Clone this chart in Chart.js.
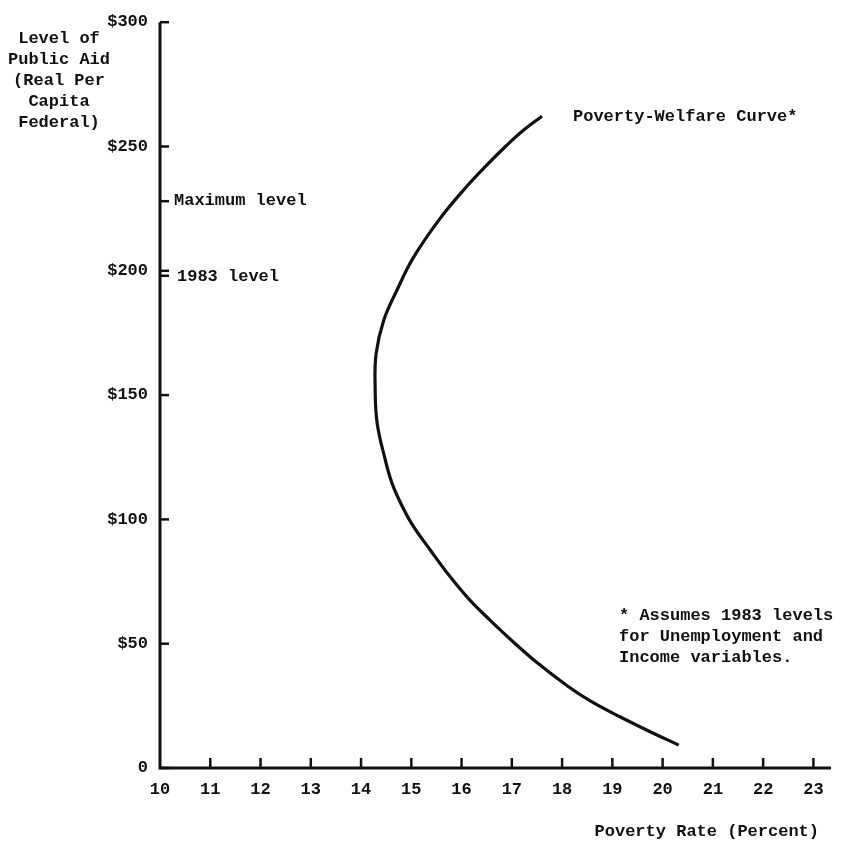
<!DOCTYPE html>
<html>
<head>
<meta charset="utf-8">
<script src="https://cdn.jsdelivr.net/npm/chart.js@4"></script>
<style>
html,body{margin:0;padding:0;background:#fff;}
#wrap{width:848px;height:848px;}
</style>
</head>
<body>
<div id="wrap"><canvas id="c" width="848" height="848"></canvas></div>
<script>
// Poverty-Welfare curve: poverty rate (percent) vs level of public aid ($ real per capita federal)
const povertyRate = [20.32, 19.69, 19.16, 18.56, 18.10, 17.50, 17.03, 16.57, 16.17, 15.77, 15.38, 15.01, 14.78, 14.61, 14.48, 14.32, 14.28, 14.30, 14.45, 14.71, 15.04, 15.57, 16.11, 16.50, 16.90, 17.23, 17.60];
const publicAid   = [9.2,   15.2,  20.5,  27.0,  33.1,  42.4,  50.7,  59.4,  67.4,  77.0,  87.6,  98.2,  106.9, 114.9, 124.1, 138.8, 153.4, 166.7, 180.0, 192.0, 205.3, 221.0, 234.1, 242.5, 250.5, 256.5, 262.2];
const xTicks = [10,11,12,13,14,15,16,17,18,19,20,21,22,23];
const yTicks = [0,50,100,150,200,250,300];
const yTickLabels = ['0','$50','$100','$150','$200','$250','$300'];
const refLevels = [228, 198];
const refLabels = ['Maximum level', '1983 level'];
const yTitleLines = ['Level of','Public Aid','(Real Per','Capita','Federal)'];
const xTitle = 'Poverty Rate (Percent)';
const curveLabel = 'Poverty-Welfare Curve*';
const noteLines = ['* Assumes 1983 levels','for Unemployment and','Income variables.'];

const FONT = '"Liberation Mono", "DejaVu Sans Mono", monospace';
const points = povertyRate.map((x,i)=>({x:x, y:publicAid[i]}));

const decor = {
  id:'decor',
  afterDraw(chart){
    const ctx = chart.ctx, xs = chart.scales.x, ys = chart.scales.y;
    const x0 = xs.getPixelForValue(10), y0 = ys.getPixelForValue(0);
    ctx.save();
    ctx.strokeStyle = '#111'; ctx.lineWidth = 3; ctx.lineCap='butt';
    ctx.beginPath();
    ctx.moveTo(x0, ys.getPixelForValue(300)); ctx.lineTo(x0, y0);
    ctx.lineTo(xs.right, y0);
    ctx.stroke();
    ctx.lineWidth = 2.5;
    yTicks.concat(refLevels).forEach(v=>{
      const py = ys.getPixelForValue(v);
      ctx.beginPath(); ctx.moveTo(x0, py); ctx.lineTo(x0+9, py); ctx.stroke();
    });
    xTicks.forEach(v=>{
      if (v===10) return;
      const px = xs.getPixelForValue(v);
      ctx.beginPath(); ctx.moveTo(px, y0); ctx.lineTo(px, y0-10); ctx.stroke();
    });
    ctx.fillStyle = '#111';
    ctx.font = 'bold 17px ' + FONT;
    ctx.textBaseline = 'middle';
    ctx.textAlign = 'left';
    ctx.fillText(refLabels[0], x0+14, ys.getPixelForValue(refLevels[0]));
    ctx.fillText(refLabels[1], x0+17, ys.getPixelForValue(refLevels[1])+1);
    ctx.textAlign = 'center';
    yTitleLines.forEach((t,i)=>ctx.fillText(t, 59, 39 + i*21));
    ctx.textAlign = 'right';
    ctx.fillText(xTitle, 819, 832);
    ctx.textAlign = 'left';
    ctx.fillText(curveLabel, 573, 117);
    noteLines.forEach((t,i)=>ctx.fillText(t, 619, 616 + i*21));
    ctx.restore();
  }
};

new Chart(document.getElementById('c'), {
  type:'scatter',
  data:{datasets:[{
    data: points,
    showLine:true,
    borderColor:'#111',
    borderWidth:3.2,
    pointRadius:0,
    tension:0.4,
    fill:false
  }]},
  options:{
    responsive:false,
    animation:false,
    devicePixelRatio:1,
    layout:{padding:{top:16,right:17,left:0,bottom:0}},
    plugins:{legend:{display:false},tooltip:{enabled:false}},
    scales:{
      x:{
        type:'linear', min:10, max:23.35,
        afterFit(s){ s.height = 80; },
        afterBuildTicks(s){ s.ticks = xTicks.map(v=>({value:v})); },
        grid:{display:false, drawTicks:false},
        border:{display:false},
        ticks:{color:'#111', padding:12, maxRotation:0, autoSkip:false,
               font:{family:FONT, size:17, weight:'bold'},
               callback:(v)=>String(v)}
      },
      y:{
        type:'linear', min:0, max:300,
        afterFit(s){ s.width = 160; },
        afterBuildTicks(s){ s.ticks = yTicks.map(v=>({value:v})); },
        grid:{display:false, drawTicks:false},
        border:{display:false},
        ticks:{color:'#111', padding:12, autoSkip:false,
               font:{family:FONT, size:17, weight:'bold'},
               callback:(v)=>yTickLabels[yTicks.indexOf(v)]}
      }
    }
  },
  plugins:[decor]
});
</script>
</body>
</html>
